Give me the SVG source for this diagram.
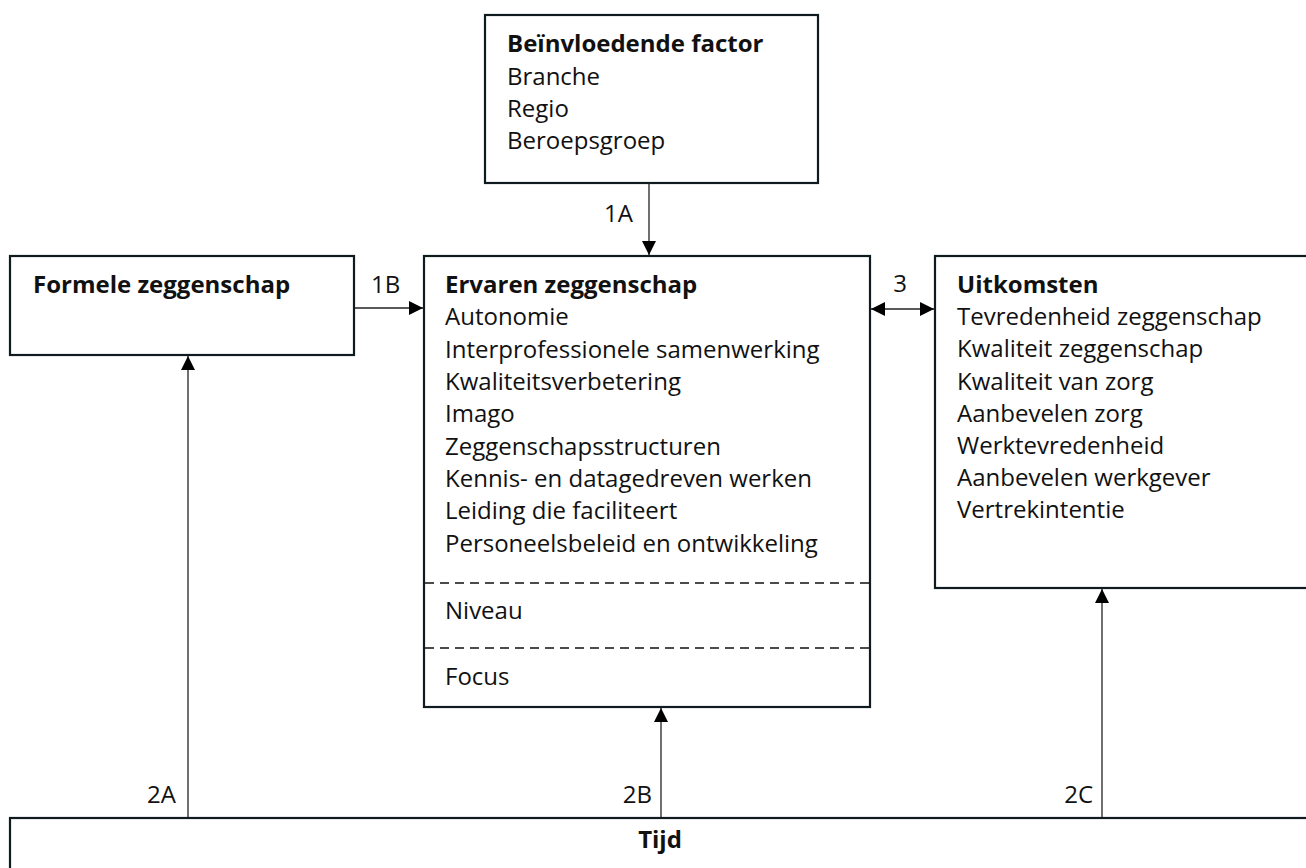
<svg xmlns="http://www.w3.org/2000/svg" width="1306" height="868" viewBox="0 0 1306 868">
<defs>
<style>
.box{fill:#fff;stroke:#0f1b1e;stroke-width:2.2}
.t{font-family:"Open Sans","Liberation Sans",sans-serif;font-size:24px;fill:#111}
.b{font-weight:bold}
.lbl{font-family:"Open Sans","Liberation Sans",sans-serif;font-size:24px;fill:#111}
.c{stroke:#222;stroke-width:1.3;fill:none}
.dash{stroke:#111;stroke-width:1.6;stroke-dasharray:9,6}
</style>
<marker id="ah" viewBox="0 0 14 14" refX="14" refY="7" markerWidth="14" markerHeight="14" markerUnits="userSpaceOnUse" orient="auto-start-reverse">
<path d="M0,0 L14,7 L0,14 Z" fill="#000"/>
</marker>
</defs>

<g id="node-factor">
<rect class="box" x="485" y="15" width="333" height="168"/>
<text class="t b" x="507" y="52">Beïnvloedende factor</text>
<text class="t" x="507" y="84.5">Branche</text>
<text class="t" x="507" y="117">Regio</text>
<text class="t" x="507" y="149">Beroepsgroep</text>
</g>

<g id="node-formeel">
<rect class="box" x="10" y="256" width="344" height="99"/>
<text class="t b" x="33" y="293">Formele zeggenschap</text>
</g>

<g id="node-ervaren">
<rect class="box" x="424" y="256" width="446" height="451"/>
<text class="t b" x="445" y="293">Ervaren zeggenschap</text>
<text class="t" x="445" y="325">Autonomie</text>
<text class="t" x="445" y="357.5">Interprofessionele samenwerking</text>
<text class="t" x="445" y="390">Kwaliteitsverbetering</text>
<text class="t" x="445" y="422">Imago</text>
<text class="t" x="445" y="454.5">Zeggenschapsstructuren</text>
<text class="t" x="445" y="487">Kennis- en datagedreven werken</text>
<text class="t" x="445" y="519">Leiding die faciliteert</text>
<text class="t" x="445" y="551.5">Personeelsbeleid en ontwikkeling</text>
<line class="dash" x1="425" y1="583" x2="869" y2="583"/>
<text class="t" x="445" y="619">Niveau</text>
<line class="dash" x1="425" y1="648" x2="869" y2="648"/>
<text class="t" x="445" y="685">Focus</text>
</g>

<g id="node-uitkomsten">
<rect class="box" x="935" y="256" width="400" height="332"/>
<text class="t b" x="957" y="293">Uitkomsten</text>
<text class="t" x="957" y="325">Tevredenheid zeggenschap</text>
<text class="t" x="957" y="357">Kwaliteit zeggenschap</text>
<text class="t" x="957" y="389.5">Kwaliteit van zorg</text>
<text class="t" x="957" y="421.5">Aanbevelen zorg</text>
<text class="t" x="957" y="454">Werktevredenheid</text>
<text class="t" x="957" y="486">Aanbevelen werkgever</text>
<text class="t" x="957" y="518">Vertrekintentie</text>
</g>

<g id="node-tijd">
<rect class="box" x="10" y="818" width="1330" height="80"/>
<text class="t b" x="660" y="848" text-anchor="middle">Tijd</text>
</g>

<g id="connectors">
<line class="c" x1="649" y1="183" x2="649" y2="255" marker-end="url(#ah)"/>
<text class="lbl" x="633" y="222" text-anchor="end">1A</text>
<line class="c" x1="355" y1="308" x2="423" y2="308" marker-end="url(#ah)"/>
<text class="lbl" x="371" y="293">1B</text>
<line class="c" x1="871" y1="309" x2="934" y2="309" marker-start="url(#ah)" marker-end="url(#ah)"/>
<text class="lbl" x="900" y="292" text-anchor="middle">3</text>
<line class="c" x1="188" y1="817" x2="188" y2="356" marker-end="url(#ah)"/>
<text class="lbl" x="176" y="803" text-anchor="end">2A</text>
<line class="c" x1="661" y1="817" x2="661" y2="708" marker-end="url(#ah)"/>
<text class="lbl" x="652" y="803" text-anchor="end">2B</text>
<line class="c" x1="1102" y1="817" x2="1102" y2="589" marker-end="url(#ah)"/>
<text class="lbl" x="1093" y="803" text-anchor="end">2C</text>
</g>
</svg>
